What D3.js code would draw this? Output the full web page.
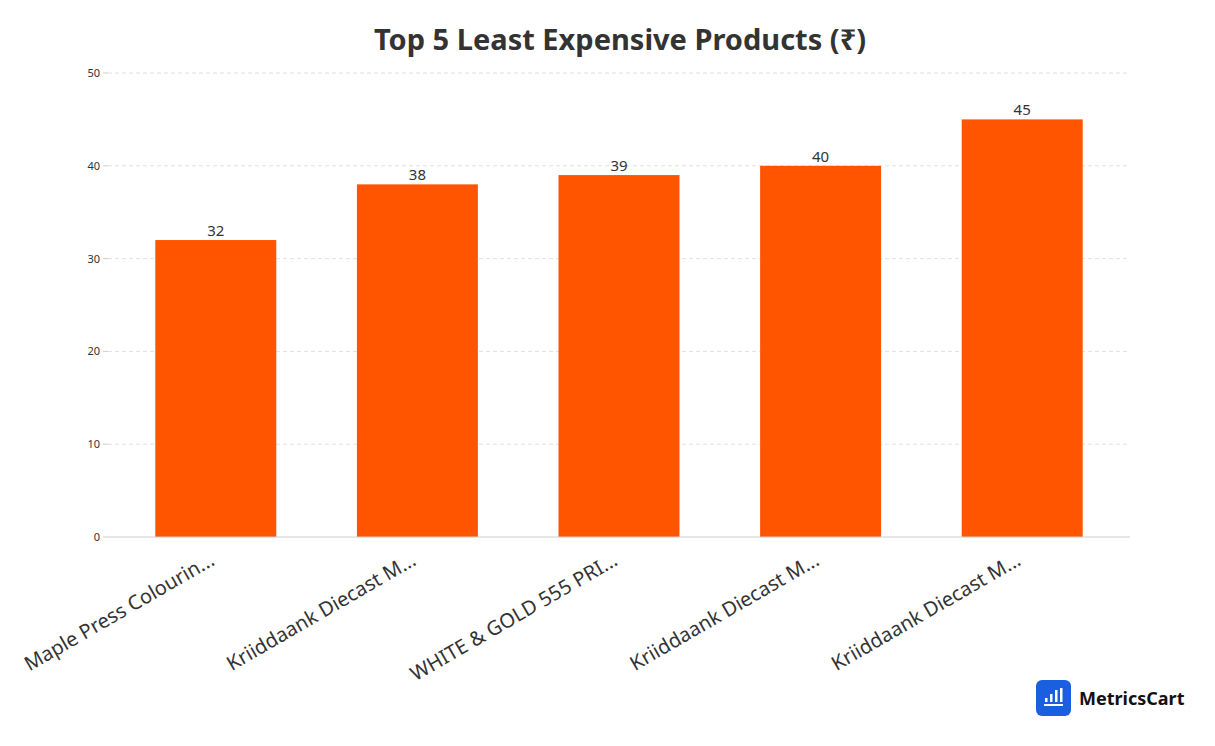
<!DOCTYPE html>
<html><head><meta charset="utf-8">
<script src="https://cdn.jsdelivr.net/npm/d3@7/dist/d3.min.js"></script>
<style>body{margin:0;background:#fff}</style></head>
<body><svg id="c" width="1215" height="746"></svg>
<script>
const categories = ["Maple Press Colourin...","Kriiddaank Diecast M...","WHITE & GOLD 555 PRI...","Kriiddaank Diecast M...","Kriiddaank Diecast M..."];
const values = [32,38,39,40,45];
const yTicks = [0,10,20,30,40,50];
const title = "Top 5 Least Expensive Products (₹)";

const svg = d3.select("#c");
const F = "'Noto Sans', sans-serif";
const x = d3.scaleBand().domain(d3.range(categories.length)).range([115,1123]).paddingInner(0.4).paddingOuter(0.2);
const y = d3.scaleLinear().domain([0,50]).range([537,73]);

svg.append("text").attr("x",620).attr("y",50).attr("text-anchor","middle")
  .attr("font-family",F).attr("font-weight","bold").attr("font-size",29).attr("fill","#333").text(title);

const g = svg.append("g");
g.selectAll("line.grid").data(yTicks.slice(1)).join("line")
  .attr("x1",108).attr("x2",1130).attr("y1",d=>y(d)).attr("y2",d=>y(d))
  .attr("stroke","#e0e0e0").attr("stroke-dasharray","4,3");
g.selectAll("text.yt").data(yTicks).join("text")
  .attr("x",100).attr("y",d=>y(d)+4).attr("text-anchor","end")
  .attr("font-family",F).attr("font-size",11).attr("fill","#333").text(d=>d);
g.selectAll("line.tk").data(yTicks).join("line")
  .attr("x1",103).attr("x2",108).attr("y1",d=>y(d)).attr("y2",d=>y(d)).attr("stroke","#ccc");

g.selectAll("rect").data(values).join("rect")
  .attr("x",(d,i)=>x(i)).attr("width",x.bandwidth())
  .attr("y",d=>y(d)).attr("height",d=>y(0)-y(d)).attr("fill","#ff5400");
g.selectAll("text.v").data(values).join("text")
  .attr("x",(d,i)=>x(i)+x.bandwidth()/2).attr("y",d=>y(d)-4).attr("text-anchor","middle")
  .attr("font-family",F).attr("font-size",15).attr("fill","#333").text(d=>d);

g.append("line").attr("x1",108).attr("x2",1130).attr("y1",537).attr("y2",537).attr("stroke","#ccc");

g.selectAll("text.c").data(categories).join("text")
  .attr("transform",(d,i)=>`translate(${x(i)+x.bandwidth()/2},${564}) rotate(-30)`)
  .attr("text-anchor","end").attr("font-family",F).attr("font-size",20).attr("fill","#333").text(d=>d);

// logo
const lg = svg.append("g").attr("transform","translate(1036,680)");
lg.append("rect").attr("width",35).attr("height",36).attr("rx",6).attr("fill","#1a5fe0");
[[9,18,4],[14,14,8],[19,10,12],[24,8,14]].forEach(([bx,by,h])=>lg.append("rect").attr("x",bx).attr("y",by).attr("width",2.5).attr("height",h).attr("fill","#fff"));
lg.append("path").attr("d","M8 25 L27 25").attr("stroke","#fff").attr("stroke-width",2);
svg.append("text").attr("x",1079).attr("y",705).attr("font-family",F).attr("font-weight","bold")
  .attr("font-size",18).attr("fill","#111").text("MetricsCart");
</script></body></html>
